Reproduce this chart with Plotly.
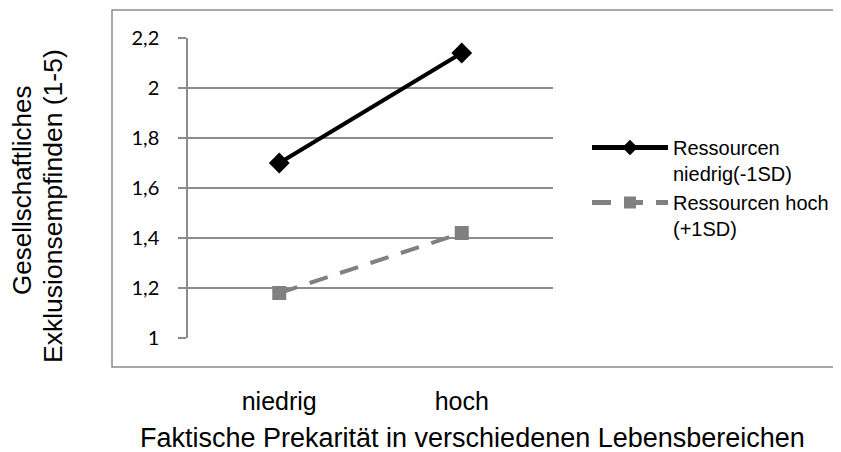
import plotly.graph_objects as go

categories = ["niedrig", "hoch"]
low_resources = [1.70, 2.14]
high_resources = [1.18, 1.42]
series_names = ["Ressourcen<br>niedrig(-1SD)", "Ressourcen hoch<br>(+1SD)"]
y_ticks = [1, 1.2, 1.4, 1.6, 1.8, 2, 2.2]
y_ticklabels = ["1", "1,2", "1,4", "1,6", "1,8", "2", "2,2"]

OFF = 8  # page body margin
W, H = 841 - OFF, 452 - OFF
# plot area in target-screen pixels
X0, X1, Y0, Y1 = 188, 553, 38, 338
L = X0 - OFF
R = W - (X1 - OFF)
T = Y0 - OFF
B = H - (Y1 - OFF)
pw = X1 - X0
ph = Y1 - Y0

def px_x(x):
    return (x - X0) / pw

def px_y(y):
    return (Y1 - y) / ph

fig = go.Figure()
fig.add_trace(go.Scatter(
    x=categories, y=low_resources, name=series_names[0], mode="lines+markers",
    line=dict(color="#000000", width=4),
    marker=dict(symbol="diamond", size=16, color="#000000"),
))
fig.add_trace(go.Scatter(
    x=categories, y=high_resources, name=series_names[1], mode="lines+markers",
    line=dict(color="#808080", width=4, dash="19px,13px"),
    marker=dict(symbol="square", size=14, color="#808080"),
))

grid = "#8c8c8c"
AR = "Liberation Sans, Arial"
fig.update_layout(
    template="none",
    width=W, height=H,
    margin=dict(l=L, r=R, t=T, b=B, pad=0, autoexpand=False),
    paper_bgcolor="white", plot_bgcolor="white",
    font=dict(family=AR, color="#000000"),
    showlegend=True,
    legend=dict(
        xref="container", yref="container",
        x=(587 - OFF) / W, y=1 - (128 - OFF) / H, xanchor="left", yanchor="top",
        font=dict(size=20, family=AR), valign="top", itemsizing="constant",
        itemwidth=76, tracegroupgap=14, bgcolor="rgba(0,0,0,0)",
    ),
    xaxis=dict(
        type="category", range=[-0.5, 1.5], showgrid=False, zeroline=False,
        showline=False, ticks="", tickfont=dict(size=25, family=AR),
        ticklabelstandoff=46, automargin=False,
    ),
    yaxis=dict(
        range=[1, 2.2], tickvals=y_ticks, ticktext=y_ticklabels,
        showgrid=True, gridcolor=grid, gridwidth=1.5,
        showline=True, linecolor=grid, linewidth=1.5,
        ticks="outside", ticklen=8, tickcolor=grid, tickwidth=1.5,
        tickfont=dict(size=20, family="Lato, Carlito, Calibri"),
        ticklabelstandoff=15, zeroline=False, automargin=False,
    ),
    shapes=[
        dict(type="path", xref="paper", yref="paper",
             path=f"M {px_x(860)} {px_y(10)} L {px_x(112)} {px_y(10)} L {px_x(112)} {px_y(367)} L {px_x(860)} {px_y(367)}",
             line=dict(color=grid, width=1.5)),
    ],
    annotations=[
        dict(text="Faktische Prekarität in verschiedenen Lebensbereichen",
             xref="paper", yref="paper", x=px_x(472), y=px_y(438),
             xanchor="center", yanchor="middle", showarrow=False,
             font=dict(size=27, family=AR)),
        dict(text="Gesellschaftliches",
             xref="paper", yref="paper", x=px_x(22), y=px_y(190),
             xanchor="center", yanchor="middle", showarrow=False, textangle=-90,
             font=dict(size=26, family=AR)),
        dict(text="Exklusionsempfinden (1-5)",
             xref="paper", yref="paper", x=px_x(53), y=px_y(206),
             xanchor="center", yanchor="middle", showarrow=False, textangle=-90,
             font=dict(size=26.5, family=AR)),
    ],
)

fig.write_html("out.html")
